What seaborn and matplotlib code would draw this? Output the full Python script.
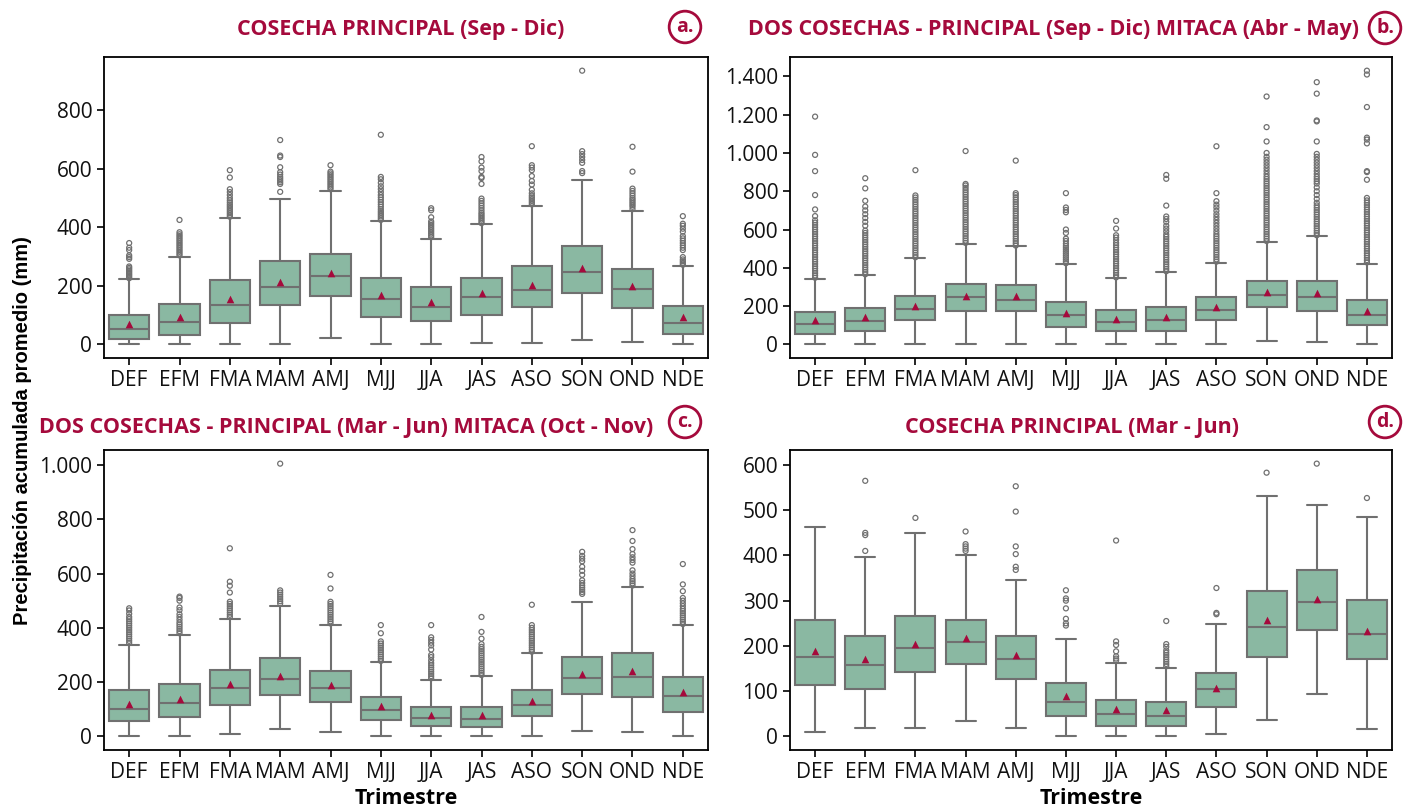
import numpy as np
import pandas as pd
import matplotlib
matplotlib.use("Agg")
import matplotlib.pyplot as plt
import seaborn as sns
from matplotlib.ticker import FuncFormatter, MultipleLocator

trimestres = ["DEF", "EFM", "FMA", "MAM", "AMJ", "MJJ", "JJA", "JAS", "ASO", "SON", "OND", "NDE"]

titulos = ["COSECHA PRINCIPAL (Sep - Dic)",
           "DOS COSECHAS - PRINCIPAL (Sep - Dic) MITACA (Abr - May)",
           "DOS COSECHAS - PRINCIPAL (Mar - Jun) MITACA (Oct - Nov)",
           "COSECHA PRINCIPAL (Mar - Jun)"]
etiquetas = ["a.", "b.", "c.", "d."]

# ---------------- Panel a ----------------
a_low = [0, 0, 0, 0, 23, 0, 0, 5, 3, 16, 7, 0]
a_q1 = [17, 31, 72, 133, 164, 95, 80, 99, 128, 174, 125, 34]
a_med = [52, 76, 133, 195, 235, 154, 128, 163, 185, 248, 188, 73]
a_q3 = [100, 137, 220, 284, 307, 227, 195, 225, 268, 336, 259, 131]
a_high = [222, 299, 431, 496, 523, 422, 361, 411, 473, 563, 457, 267]
a_mean = [69, 94, 154, 214, 243, 170, 146, 176, 204, 261, 200, 92]
a_out = [
    [226, 231, 236, 241, 246, 251, 256, 261, 266, 292, 298, 304, 322, 330, 346],
    [304, 310, 316, 322, 328, 334, 340, 346, 352, 358, 364, 370, 376, 383, 425],
    [436, 442, 448, 454, 460, 466, 472, 478, 485, 492, 500, 510, 520, 530, 570, 595],
    [521, 548, 554, 560, 566, 572, 580, 588, 605, 640, 645, 698],
    [530, 536, 542, 548, 554, 560, 566, 572, 578, 584, 590, 612],
    [425, 431, 437, 443, 449, 455, 462, 470, 478, 486, 494, 502, 510, 520, 530, 540, 552, 564, 572, 716],
    [366, 372, 378, 384, 390, 396, 402, 408, 414, 420, 434, 458, 465],
    [414, 420, 426, 432, 438, 444, 450, 458, 466, 474, 482, 490, 498, 548, 568, 572, 592, 604, 625, 640],
    [478, 484, 490, 496, 502, 508, 516, 528, 546, 558, 575, 595, 604, 612, 677],
    [585, 592, 620, 630, 640, 650, 660, 935],
    [462, 470, 476, 482, 488, 494, 500, 508, 516, 524, 532, 590, 675],
    [272, 278, 284, 290, 298, 322, 330, 338, 346, 354, 362, 370, 385, 395, 405, 412, 438],
]

# ---------------- Panel b ----------------
b_low = [0, 0, 0, 0, 0, 0, 0, 0, 0, 18, 14, 0]
b_q1 = [56, 70, 125, 174, 174, 93, 67, 70, 125, 193, 174, 99]
b_med = [105, 120, 186, 248, 232, 153, 116, 128, 181, 257, 246, 155]
b_q3 = [169, 188, 255, 315, 310, 223, 178, 195, 248, 331, 331, 229]
b_high = [343, 361, 449, 526, 512, 419, 345, 378, 427, 536, 566, 422]
b_mean = [128, 141, 202, 253, 250, 165, 132, 144, 193, 273, 267, 176]
b_out = [
    [348, 360, 372, 384, 396, 408, 420, 432, 444, 456, 468, 480, 492, 504, 516, 528, 540, 552, 564,
     576, 588, 600, 612, 624, 636, 648, 670, 705, 780, 905, 990, 1190],
    [366, 378, 390, 402, 414, 426, 438, 450, 462, 474, 486, 498, 510, 522, 534, 546, 558, 570, 582,
     594, 620, 640, 660, 680, 700, 720, 750, 815, 868],
    [455, 467, 479, 491, 503, 515, 527, 539, 551, 563, 575, 587, 599, 611, 623, 635, 647, 659, 671,
     683, 695, 707, 719, 731, 743, 755, 767, 778, 910],
    [530, 542, 554, 566, 578, 590, 602, 614, 626, 638, 650, 662, 674, 686, 698, 710, 722, 734, 746,
     758, 770, 782, 794, 806, 818, 830, 838, 1010],
    [516, 528, 540, 552, 564, 576, 588, 600, 612, 624, 636, 648, 660, 672, 684, 696, 708, 720, 732,
     744, 756, 768, 780, 790, 960],
    [424, 434, 444, 454, 464, 474, 484, 494, 504, 514, 526, 540, 552, 582, 600, 690, 702, 715, 790],
    [350, 362, 374, 386, 398, 410, 422, 434, 446, 458, 470, 482, 494, 506, 518, 530, 545, 558, 570,
     605, 645],
    [382, 394, 406, 418, 430, 442, 454, 466, 478, 490, 502, 514, 526, 538, 550, 562, 574, 590, 605,
     620, 640, 655, 668, 725, 865, 885],
    [432, 444, 456, 468, 480, 492, 504, 516, 528, 540, 552, 564, 576, 590, 605, 620, 635, 650, 665,
     680, 698, 715, 730, 748, 790, 1035],
    [540, 552, 564, 576, 588, 600, 612, 624, 636, 648, 660, 672, 684, 696, 708, 720, 732, 744, 756,
     768, 780, 792, 804, 816, 828, 840, 852, 864, 876, 890, 905, 920, 935, 950, 965, 980, 1000,
     1060, 1135, 1295],
    [570, 582, 594, 606, 618, 630, 642, 654, 666, 678, 690, 702, 714, 726, 740, 760, 780, 800, 820,
     840, 852, 864, 876, 890, 905, 920, 935, 950, 965, 980, 995, 1060, 1165, 1170, 1310, 1370],
    [428, 440, 452, 464, 476, 488, 500, 512, 524, 536, 548, 560, 572, 584, 596, 608, 620, 632, 644,
     656, 668, 680, 692, 704, 716, 728, 740, 752, 765, 860, 900, 905, 1050, 1070, 1080, 1240,
     1410, 1430],
]

# ---------------- Panel c ----------------
c_low = [0, 0, 9, 26, 16, 0, 0, 0, 0, 21, 17, 0]
c_q1 = [55, 70, 117, 154, 128, 60, 39, 33, 76, 155, 146, 90]
c_med = [101, 123, 178, 212, 180, 98, 69, 65, 116, 215, 219, 149]
c_q3 = [171, 192, 246, 287, 242, 146, 108, 108, 170, 294, 307, 219]
c_high = [338, 375, 434, 482, 410, 273, 209, 221, 306, 496, 550, 410]
c_mean = [121, 139, 193, 223, 189, 111, 79, 79, 129, 231, 240, 164]
c_out = [
    [344, 352, 360, 368, 376, 384, 392, 400, 408, 416, 424, 432, 440, 452, 464, 472],
    [380, 388, 396, 404, 412, 420, 430, 440, 450, 465, 475, 500, 510, 515],
    [440, 448, 456, 464, 472, 480, 488, 496, 530, 555, 570, 693],
    [490, 498, 506, 514, 522, 530, 538, 1005],
    [416, 424, 432, 440, 448, 456, 464, 472, 480, 488, 496, 545, 595],
    [278, 286, 294, 302, 310, 318, 326, 334, 342, 350, 380, 410],
    [214, 222, 230, 238, 246, 254, 262, 270, 280, 292, 300, 320, 335, 345, 355, 365, 410],
    [226, 234, 242, 250, 258, 266, 274, 282, 290, 298, 306, 314, 322, 330, 340, 360, 385, 440],
    [312, 320, 328, 336, 344, 352, 360, 368, 376, 384, 392, 400, 410, 485],
    [525, 532, 540, 548, 556, 565, 575, 595, 610, 625, 645, 655, 665, 680],
    [556, 564, 572, 580, 590, 600, 612, 640, 650, 660, 672, 690, 720, 760],
    [414, 422, 430, 438, 446, 454, 462, 470, 480, 490, 500, 510, 535, 560, 635],
]

# ---------------- Panel d ----------------
d_low = [10, 18, 18, 35, 19, 0, 0, 0, 6, 37, 94, 17]
d_q1 = [114, 104, 142, 159, 127, 44, 24, 24, 65, 176, 235, 170]
d_med = [176, 157, 195, 209, 171, 75, 49, 45, 104, 242, 296, 226]
d_q3 = [257, 222, 267, 257, 221, 118, 80, 76, 140, 322, 367, 301]
d_high = [463, 396, 449, 401, 345, 216, 162, 152, 249, 531, 511, 486]
d_mean = [188, 172, 205, 218, 180, 90, 61, 58, 108, 258, 303, 233]
d_out = [
    [],
    [410, 445, 450, 565],
    [483],
    [410, 415, 420, 425, 453],
    [368, 375, 403, 420, 497, 553],
    [245, 250, 260, 283, 300, 305, 323],
    [168, 172, 177, 188, 202, 210, 433],
    [155, 160, 165, 170, 175, 180, 185, 190, 198, 204, 255],
    [270, 273, 328],
    [583],
    [603],
    [527],
]

paneles = [
    (a_low, a_q1, a_med, a_q3, a_high, a_mean, a_out, 200),
    (b_low, b_q1, b_med, b_q3, b_high, b_mean, b_out, 200),
    (c_low, c_q1, c_med, c_q3, c_high, c_mean, c_out, 200),
    (d_low, d_q1, d_med, d_q3, d_high, d_mean, d_out, 100),
]

# ---------------- Style ----------------
sns.set_theme(style="white")
plt.rcParams["font.family"] = ["Open Sans", "DejaVu Sans"]

FILL = "#8ab8a2"
LINE = "#707070"
RED = "#a50a3c"

fig = plt.figure(figsize=(14.18, 8.07), dpi=100)
W, H = 1418, 807
boxes = [(104, 57, 708, 358), (790, 57, 1392, 358), (104, 450, 708, 750), (790, 450, 1392, 750)]
circ = [(685, 27), (1385, 28), (685, 422), (1385, 422)]
title_pos = [(401, 30), (1053, 30), (346, 428), (1072, 428)]

fmt = FuncFormatter(lambda v, p: f"{int(round(v)):,}".replace(",", "."))

for i, (low, q1, med, q3, high, mean, out, step) in enumerate(paneles):
    l, t, r, b = boxes[i]
    ax = fig.add_axes([l / W, 1 - b / H, (r - l) / W, (b - t) / H])

    rows = []
    for k, tri in enumerate(trimestres):
        for v in (low[k], q1[k], med[k], q3[k], high[k]):
            rows.append((tri, v))
    box_df = pd.DataFrame(rows, columns=["Trimestre", "valor"])

    out_rows = [(tri, v) for k, tri in enumerate(trimestres) for v in out[k]]
    out_df = pd.DataFrame(out_rows, columns=["Trimestre", "valor"])
    mean_df = pd.DataFrame({"Trimestre": trimestres, "valor": mean})

    sns.boxplot(data=box_df, x="Trimestre", y="valor", order=trimestres, whis=(0, 100),
                showfliers=False, color=FILL, saturation=1, linecolor=LINE, linewidth=1.5,
                width=0.8, ax=ax)
    n0 = len(ax.collections)
    sns.stripplot(data=out_df, x="Trimestre", y="valor", order=trimestres, jitter=False,
                  marker="o", size=3.6, color=LINE, linewidth=0.9, edgecolor=LINE, ax=ax,
                  zorder=3)
    for coll in ax.collections[n0:]:
        coll.set_facecolor("none")
        coll.set_edgecolor(LINE)
        coll.set_linewidth(0.9)
    sns.stripplot(data=mean_df, x="Trimestre", y="valor", order=trimestres, jitter=False,
                  marker="^", size=5.5, color=RED, linewidth=0, ax=ax, zorder=5)

    ax.yaxis.set_major_locator(MultipleLocator(step))
    ax.yaxis.set_major_formatter(fmt)
    ax.set_ylabel("")
    if i >= 2:
        ax.set_xlabel("Trimestre", fontsize=15.5, fontweight="bold", labelpad=4, color="black")
    else:
        ax.set_xlabel("")
    ax.tick_params(axis="both", which="major", labelsize=15, length=5, width=1.2,
                   color="black", direction="out", bottom=True, left=True, pad=3.5,
                   labelcolor="#111111")
    for sp in ax.spines.values():
        sp.set_color("black")
        sp.set_linewidth(1.3)

    tx, ty = title_pos[i]
    fig.text(tx / W, 1 - ty / H, titulos[i], fontsize=15.5, fontweight="bold", color=RED,
             ha="center", va="center")

    cx, cy = circ[i]
    fig.text(cx / W, 1 - cy / H, etiquetas[i], fontsize=14, fontweight="bold", color=RED,
             ha="center", va="center",
             bbox=dict(boxstyle="circle,pad=0.3", fc="white", ec=RED, lw=2))

fig.text(23 / W, 1 - 431 / H, "Precipitación acumulada promedio (mm)", rotation=90, ha="center",
         va="center", fontsize=14.5, fontweight="bold", family=["Liberation Sans", "DejaVu Sans"],
         color="black")

fig.savefig("out.png", dpi=100)
